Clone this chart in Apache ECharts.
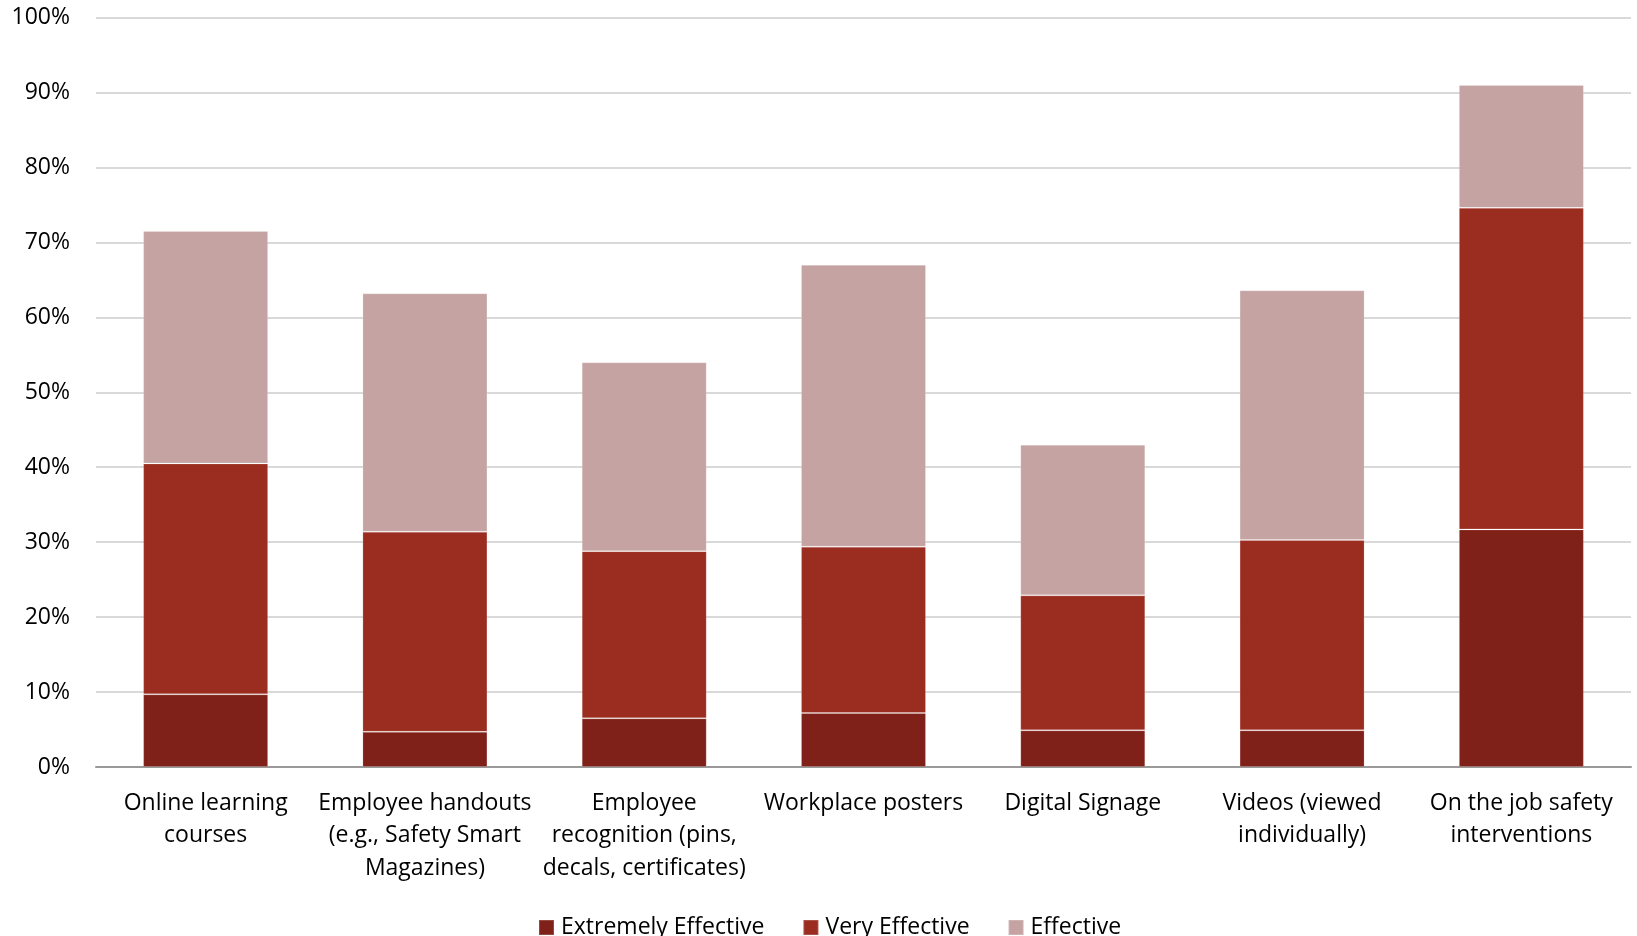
<!DOCTYPE html>
<html>
<head>
<meta charset="utf-8">
<script src="https://cdn.jsdelivr.net/npm/echarts@6/dist/echarts.min.js"></script>
<style>html,body{margin:0;padding:0;background:#fff}#c{width:1637px;height:936px}</style>
</head>
<body>
<div id="c"></div>
<script>
const categories = [
  "Online learning\ncourses",
  "Employee handouts\n(e.g., Safety Smart\nMagazines)",
  "Employee\nrecognition (pins,\ndecals, certificates)",
  "Workplace posters",
  "Digital Signage",
  "Videos (viewed\nindividually)",
  "On the job safety\ninterventions"
];
const seriesNames = ["Extremely Effective", "Very Effective", "Effective"];
const extremelyEffective = [9.7, 4.7, 6.5, 7.2, 4.9, 4.9, 31.7];
const veryEffective = [30.8, 26.7, 22.3, 22.2, 18.0, 25.4, 42.9];
const effective = [31.0, 31.8, 25.2, 37.6, 20.1, 33.3, 16.4];
const colors = ["#7F2118", "#9B2C20", "#C5A3A3"];

const font = "'Open Sans', Lato, sans-serif";
const chart = echarts.init(document.getElementById('c'), null, {renderer: 'canvas'});
const mk = (name, data, color) => ({
  name, type: 'bar', stack: 'total', data, barWidth: '57%',
  itemStyle: {color, borderColor: 'rgba(255,255,255,0.18)', borderWidth: 1},
  animation: false
});
chart.setOption({
  animation: false,
  color: colors,
  grid: {left: 96, right: 6, top: 17.5, bottom: 169, containLabel: false},
  legend: {
    left: 533, top: 911, itemWidth: 15, itemHeight: 15, itemGap: 38,
    icon: 'rect',
    textStyle: {fontFamily: font, fontSize: 23, color: '#000', padding: [0,0,0,2]},
    data: seriesNames
  },
  xAxis: {
    type: 'category', data: categories,
    axisLine: {lineStyle: {color: '#999', width: 2}},
    axisTick: {show: false},
    axisLabel: {fontFamily: font, fontSize: 23, color: '#000', lineHeight: 32.5, margin: 20, interval: 0}
  },
  yAxis: {
    type: 'value', min: 0, max: 100, interval: 10,
    axisLine: {show: false}, axisTick: {show: false},
    splitLine: {lineStyle: {color: '#d9d9d9', width: 2}},
    axisLabel: {formatter: '{value}%', fontFamily: font, fontSize: 23, color: '#000', margin: 26}
  },
  series: [
    mk(seriesNames[0], extremelyEffective, colors[0]),
    mk(seriesNames[1], veryEffective, colors[1]),
    mk(seriesNames[2], effective, colors[2])
  ]
});
</script>
</body>
</html>
